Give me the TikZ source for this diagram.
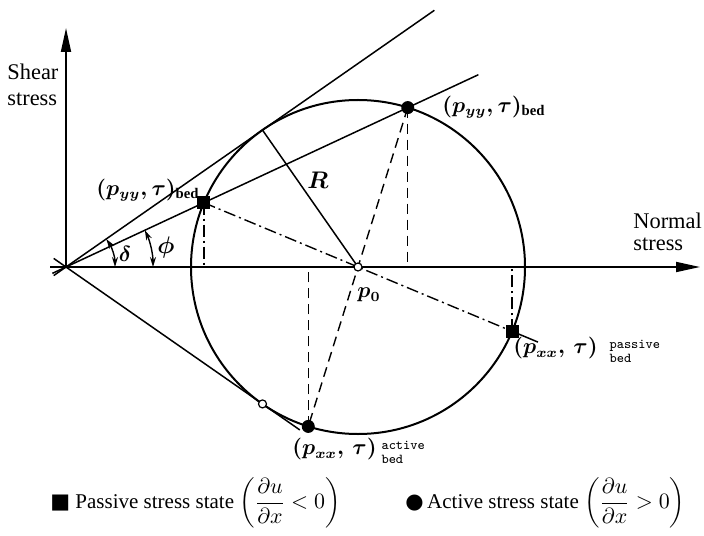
\documentclass[tikz,border=0pt]{standalone}
\usepackage{amsmath,amssymb}
\usepackage{fontspec}
\setmainfont{Liberation Serif}
\newfontfamily\symbfont{DejaVu Sans}
\usetikzlibrary{arrows.meta,calc}

\begin{document}
\begin{tikzpicture}[x=0.5pt, y=0.5pt,
        axis/.style={line width=0.9pt, -{Triangle[length=12pt,width=5pt]}},
        thin line/.style={line width=0.75pt},
        dash line/.style={line width=0.7pt, dash pattern=on 5pt off 3pt},
        dot dash/.style={line width=0.7pt, dash pattern=on 6pt off 2pt on 1pt off 2pt},
        passive pt/.style={fill, rectangle, inner sep=0pt, minimum size=6.5pt},
        active pt/.style={fill, circle, inner sep=0pt, minimum size=6.5pt},
        open pt/.style={draw, fill=white, circle, inner sep=0pt, minimum size=4pt, line width=0.6pt},
        mlabel/.style={font=\fontsize{10.5}{12}\selectfont\boldmath},
        tlabel/.style={font=\fontsize{11.2}{13}\selectfont, align=left, anchor=west, inner sep=0pt},
        legend/.style={font=\fontsize{10.5}{12}\selectfont, anchor=west, inner sep=0pt},
        angle arrow/.style={line width=0.7pt, {Stealth[length=5pt,width=3pt]}-{Stealth[length=5pt,width=3pt]}}
    ]
        \useasboundingbox (-66,-268) rectangle (638,267);

        % Points of the Mohr circle
        \coordinate (O) at (0,0);
        \coordinate (p0) at (292,0);
        \coordinate (T1) at (34.87:239.5);
        \coordinate (T2) at (-34.87:239.5);
        \coordinate (PT) at ($(p0)+(157.35:167)$);
        \coordinate (PB) at ($(p0)+(-22.65:167)$);
        \coordinate (AT) at ($(p0)+(72.67:167)$);
        \coordinate (AB) at ($(p0)+(252.67:167)$);

        % 1. Axes
        \draw[axis] (-16,0) -- (634,0);
        \draw[axis] (O) -- (0,239);
        \node[tlabel] (shear) at (-59,182) {Shear\\stress};
        \node[tlabel, font=\fontsize{11.2}{11}\selectfont] (normal) at (567,35) {Normal\\stress};

        % 2. Circle and the lines through the origin
        \draw[line width=1pt] (p0) circle[radius=167];
        \draw[thin line] (214.87:15) -- (34.87:449);
        \draw[thin line] (145.13:15) -- (-34.87:285);
        \draw[thin line] (205:15) -- (25:455);
        \draw[thin line] (T1) -- (p0);

        % 3. Passive states (dash-dot)
        \draw[dot dash] (PT) -- (p0) -- (PB);
        \draw[thin line] (PB) -- ($(PB)+(-22.65:28)$);
        \draw[dot dash] (PT) -- (PT |- O);
        \draw[dot dash] (PB) -- (PB |- O);

        % 4. Active states (dashed)
        \draw[dash line] (AT) -- (AB);
        \draw[dash line] (AT) -- (AT |- O);
        \draw[dash line] (AB) -- (AB |- O);

        % Angles
        \draw[angle arrow] (34.87:49) arc[start angle=34.87, end angle=0, radius=49];
        \draw[angle arrow] (25:87) arc[start angle=25, end angle=0, radius=87];
        \node[mlabel] (delta) at (59,13) {$\delta$};
        \node[mlabel, font=\fontsize{11.5}{13}\selectfont\boldmath] (phi) at (100,20) {$\phi$};

        % Markers
        \node[passive pt] (ppt) at (PT) {};
        \node[passive pt] (ppb) at (PB) {};
        \node[active pt] (apt) at (AT) {};
        \node[active pt] (apb) at (AB) {};
        \node[open pt] (tan) at (T2) {};
        \node[open pt] (centre) at (p0) {};

        % Labels
        \node[mlabel] (lab pt) at (82,77) {$(p_{yy},\tau)_{\mathrm{bed}}$};
        \node[mlabel] (lab at) at (428,160) {$(p_{yy},\tau)_{\mathrm{bed}}$};
        \node[mlabel, font=\fontsize{12}{14}\selectfont\boldmath] (lab R) at (252,87) {$R$};
        \node[mlabel] (lab p0) at (303,-28) {$p_0$};
        \node[mlabel, anchor=west, inner sep=0pt] (lab pb) at (447,-85) {$(p_{xx},\,\tau)$\hspace{6pt}\raisebox{-1pt}{\ttfamily\fontsize{6.8}{7}\selectfont\begin{tabular}{@{}l@{}}passive\\bed\end{tabular}}};
        \node[mlabel, anchor=west, inner sep=0pt] (lab ab) at (226,-186) {$(p_{xx},\,\tau)$\hspace{2.5pt}\raisebox{-1pt}{\ttfamily\fontsize{6.8}{7}\selectfont\begin{tabular}{@{}l@{}}active\\bed\end{tabular}}};

        % Legend
        \node[legend] (legend p) at (-16,-236)
            {{\symbfont ■} Passive stress state $\left(\dfrac{\partial u}{\partial x}<0\right)$};
        \node[legend] (legend a) at (339,-236)
            {{\symbfont ●}\,Active stress state $\left(\dfrac{\partial u}{\partial x}>0\right)$};

    \end{tikzpicture}
\end{document}
